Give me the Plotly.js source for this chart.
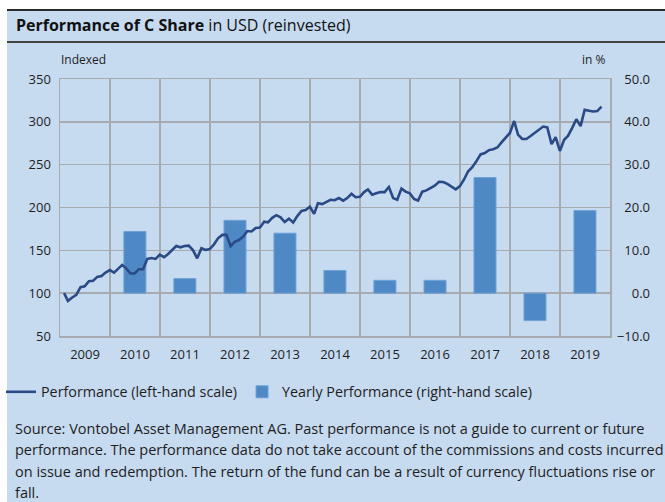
<!DOCTYPE html>
<html>
<head>
<meta charset="utf-8">
<script src="https://cdn.plot.ly/plotly-3.0.1.min.js"></script>
<style>
html,body{margin:0;padding:0;background:#fff;}
#chart{width:665px;height:502px;}
</style>
</head>
<body>
<div id="chart"></div>
<script>
// ---- data ----
const barYears = [2010, 2011, 2012, 2013, 2014, 2015, 2016, 2017, 2018, 2019];
const yearlyPerf = [14.4, 3.4, 17.0, 14.0, 5.3, 3.0, 3.0, 27.0, -6.4, 19.3];

// monthly index values, month-end, starting January 2009
const perfStartYear = 2009;
const perfStartMonth = 1;
const perfValues = [
  100, 91, 95, 98, 107, 108, 114, 114.5, 119, 120, 124, 127,
  124, 128, 133, 129, 123, 123, 128, 128, 140, 141, 140, 145,
  142, 145.5, 150, 155, 153.5, 155, 155.5, 150, 140.7, 152.4, 150.4, 151.5,
  157, 164, 168, 168, 155, 160, 162, 166, 172.5, 172, 176, 176.5,
  183.5, 182.7, 188, 191, 188.5, 183, 187, 182.5, 190, 196, 197, 201,
  192.5, 205, 204, 206, 209, 208.5, 211, 208, 211, 216, 212, 212.5,
  218, 221, 215, 216.6, 218, 218, 224, 211, 209, 222, 218.5, 216.5,
  210, 208, 218.5, 220, 223, 225.5, 230, 229.8, 227.5, 224, 221.2, 225,
  233, 242, 247, 254, 262, 263.5, 267, 268, 270, 276, 281, 287,
  301, 285, 280, 280, 283.5, 287, 290, 294.5, 293.5, 274, 282, 266,
  279, 283.5, 293, 303, 295, 314, 313, 312, 312.5, 317.7
];

const leftTickStep = 50;
const rightTickStep = 10;
const leftRange = [50, 350];
const rightRange = [-10, 50];

const titleBold = 'Performance of C Share';
const titleRest = ' in USD (reinvested)';
const leftUnit = 'Indexed';
const rightUnit = 'in %';
const lineName = 'Performance (left-hand scale)';
const barName = 'Yearly Performance (right-hand scale)';
const sourceLines = [
  'Source: Vontobel Asset Management AG. Past performance is not a guide to current or future',
  'performance. The performance data do not take account of the commissions and costs incurred',
  'on issue and redemption. The return of the fund can be a result of currency fluctuations rise or',
  'fall.'
];

// ---- derived ----
const perfDates = perfValues.map((_, k) => {
  const d = new Date(Date.UTC(perfStartYear, perfStartMonth - 1 + k + 1, 0));
  return d.toISOString().slice(0, 10);
});
const barDates = barYears.map(y => y + '-07-02');
const yearMs = 365.25 * 86400000;

// ---- geometry ----
const W = 665, H = 502;
const M = {l: 60, r: 12, t: 79, b: 166, autoexpand: false};
const pw = W - M.l - M.r, ph = H - M.t - M.b;
const plotRightPx = 610;
const px = x => (x - M.l) / pw;          // pixel -> paper x
const py = y => (H - M.b - y) / ph;      // pixel -> paper y

const FONT = 'Open Sans, Noto Sans, sans-serif';
const BG = '#c6daf0';
const GRID = '#a7aaae';
const TXT = '#1e1e1e';

const traces = [
  {
    type: 'bar', name: barName, x: barDates, y: yearlyPerf,
    width: barDates.map(() => 0.44 * yearMs),
    xaxis: 'x', yaxis: 'y',
    marker: {color: '#4f89c5', line: {color: '#6fa2d6', width: 1}},
    hoverinfo: 'skip'
  },
  {
    type: 'scatter', mode: 'lines', name: lineName, x: perfDates, y: perfValues,
    xaxis: 'x', yaxis: 'y2',
    line: {color: '#2a4a86', width: 2.6},
    hoverinfo: 'skip'
  }
];

const annotations = [
  {text: '<b>' + titleBold + '</b>' + titleRest, xref: 'paper', yref: 'paper',
   x: px(14), y: py(25), xanchor: 'left', yanchor: 'middle', showarrow: false,
   font: {family: FONT, size: 16, color: '#111'}},
  {text: leftUnit, xref: 'paper', yref: 'paper', x: px(59), y: py(59.5),
   xanchor: 'left', yanchor: 'middle', showarrow: false, font: {family: FONT, size: 12, color: TXT}},
  {text: rightUnit, xref: 'paper', yref: 'paper', x: px(608), y: py(59.5),
   xanchor: 'right', yanchor: 'middle', showarrow: false, font: {family: FONT, size: 12, color: TXT}}
];
const srcY = [428, 449.5, 471, 492.5];
sourceLines.forEach((t, i) => annotations.push({
  text: t, xref: 'paper', yref: 'paper', x: px(13), y: py(srcY[i]),
  xanchor: 'left', yanchor: 'middle', showarrow: false,
  font: {family: FONT, size: 14.5, color: TXT}
}));

const shapes = [
  {type: 'rect', xref: 'paper', yref: 'paper', x0: px(7), x1: px(W + 5), y0: py(10), y1: py(H + 5),
   fillcolor: BG, line: {width: 0}, layer: 'below'},
  {type: 'line', xref: 'paper', yref: 'paper', x0: px(7), x1: px(W + 5), y0: py(10), y1: py(10),
   line: {color: '#2b2b2b', width: 2}, layer: 'below'},
  {type: 'line', xref: 'paper', yref: 'paper', x0: px(7), x1: px(W + 5), y0: py(42), y1: py(42),
   line: {color: '#444', width: 2}, layer: 'below'}
];

const layout = {
  width: W, height: H, margin: M,
  paper_bgcolor: '#ffffff', plot_bgcolor: 'rgba(0,0,0,0)',
  font: {family: FONT, size: 13, color: TXT},
  showlegend: true, hovermode: false, bargap: 0,
  legend: {orientation: 'h', x: px(1), y: py(392), xanchor: 'left', yanchor: 'middle',
           bgcolor: 'rgba(0,0,0,0)', font: {family: FONT, size: 14.3, color: TXT},
           traceorder: 'reversed', itemwidth: 30},
  xaxis: {
    type: 'date', domain: [0, (plotRightPx - M.l) / pw],
    range: ['2009-01-01', '2020-01-01'], anchor: 'y',
    tick0: '2009-01-01', dtick: 'M12', tickformat: '%Y', ticklabelmode: 'period',
    showgrid: true, gridcolor: GRID, gridwidth: 1.5,
    showline: true, mirror: true, linecolor: GRID, linewidth: 1.5,
    ticks: '', ticklabelstandoff: 6, tickfont: {size: 13, color: TXT}, zeroline: false
  },
  yaxis: {
    range: rightRange, tick0: 0, dtick: rightTickStep, tickformat: '.1f',
    side: 'right', anchor: 'free', position: 1,
    ticklabelposition: 'inside', ticklabeloverflow: 'allow',
    showgrid: false, zeroline: false, showline: false, ticks: '',
    tickfont: {size: 13, color: TXT}
  },
  yaxis2: {
    range: leftRange, tick0: 50, dtick: leftTickStep, overlaying: 'y', side: 'left', anchor: 'x',
    showgrid: true, gridcolor: GRID, gridwidth: 1.5, zeroline: false,
    showline: true, mirror: true, linecolor: GRID, linewidth: 1.5,
    ticks: '', ticklabelstandoff: 5, tickfont: {size: 13, color: TXT}
  },
  annotations: annotations,
  shapes: shapes
};

Plotly.newPlot('chart', traces, layout, {displayModeBar: false, staticPlot: true});
</script>
</body>
</html>
